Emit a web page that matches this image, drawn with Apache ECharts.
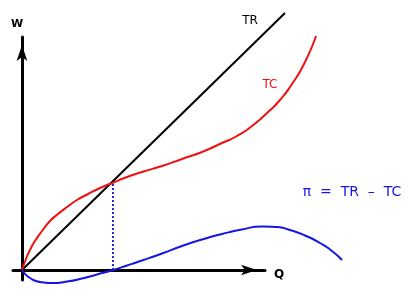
<!DOCTYPE html>
<html><head><meta charset="utf-8">
<script src="https://cdn.jsdelivr.net/npm/echarts@6/dist/echarts.min.js"></script>
<style>html,body{margin:0;padding:0;background:#fff}#c{width:416px;height:298px}</style>
</head><body><div id="c"></div>
<script>
// Values (Q, amount)
const trData = [[0,0],[263,257]];
const tcData = [[0,0],[4,11],[8,20],[13,29],[20,39],[28,49],[36,56],[45,63],[55,70],[66,76],[77,81.5],[89,86.5],[105,93],[120,98],[140,104],[160,111],[180,118],[200,127],[215,134],[230,144],[245,157],[258,170],[270,186],[282,206],[294,234]];
const profitData = [[0,0],[4,-5],[8,-8],[14,-11],[22,-12.5],[30,-13],[45,-11.5],[60,-8.5],[75,-4.5],[91,0],[105,4.5],[120,9.5],[140,16.5],[160,24],[180,30.5],[200,36],[220,40.5],[240,43.5],[255,43],[268,40],[283,34.5],[298,27],[310,19],[320,10]];
const breakEven = [[91,0],[91,87]];
const labels = {w:'W', q:'Q', tr:'TR', tc:'TC', pi:'π  =  TR  –  TC'};

const font = 'DejaVu Sans';
const hidden = {splitLine:{show:false},axisTick:{show:false},axisLabel:{show:false},axisLine:{show:false}};
const arrowLine = {onZero:true,lineStyle:{color:'#000',width:3},symbol:['none','arrow'],symbolSize:[8,16],symbolOffset:[0,-8]};
const chart = echarts.init(document.getElementById('c'), null, {renderer:'canvas'});
chart.setOption({
  animation:false,
  backgroundColor:'#fff',
  grid:[
    {left:13,right:151,top:37,bottom:18},
    {left:13,right:69,top:0,bottom:18}
  ],
  xAxis:[
    {gridIndex:0,type:'value',min:-9,max:243,splitLine:{show:false},axisTick:{show:false},axisLabel:{show:false},axisLine:arrowLine},
    Object.assign({gridIndex:1,type:'value',min:-9,max:325},hidden)
  ],
  yAxis:[
    {gridIndex:0,type:'value',min:-10,max:233,splitLine:{show:false},axisTick:{show:false},axisLabel:{show:false},axisLine:arrowLine},
    Object.assign({gridIndex:1,type:'value',min:-10,max:270},hidden)
  ],
  series:[
    {type:'line',xAxisIndex:1,yAxisIndex:1,data:trData,showSymbol:false,clip:false,lineStyle:{color:'#000',width:2},z:3},
    {type:'line',xAxisIndex:1,yAxisIndex:1,data:tcData,showSymbol:false,clip:false,smooth:0.6,lineStyle:{color:'#ee1111',width:2},z:4},
    {type:'line',xAxisIndex:1,yAxisIndex:1,data:profitData,showSymbol:false,clip:false,smooth:0.6,lineStyle:{color:'#1515e6',width:2},z:4},
    {type:'line',xAxisIndex:1,yAxisIndex:1,data:breakEven,showSymbol:false,clip:false,lineStyle:{color:'#2a2ad8',width:2,type:[2,2]},z:2}
  ],
  graphic:[
    {type:'text',x:17,y:24,style:{text:labels.w,font:'bold 11px '+font,fill:'#000',align:'center',verticalAlign:'middle'}},
    {type:'text',x:279,y:275,style:{text:labels.q,font:'bold 12px '+font,fill:'#000',align:'center',verticalAlign:'middle'}},
    {type:'text',x:250,y:21,style:{text:labels.tr,font:'12px '+font,fill:'#000',align:'center',verticalAlign:'middle'}},
    {type:'text',x:270,y:85,style:{text:labels.tc,font:'12px '+font,fill:'#ee1111',align:'center',verticalAlign:'middle'}},
    {type:'text',x:352,y:192,style:{text:labels.pi,font:'14px '+font,fill:'#1515e6',align:'center',verticalAlign:'middle'}}
  ]
});
</script></body></html>
